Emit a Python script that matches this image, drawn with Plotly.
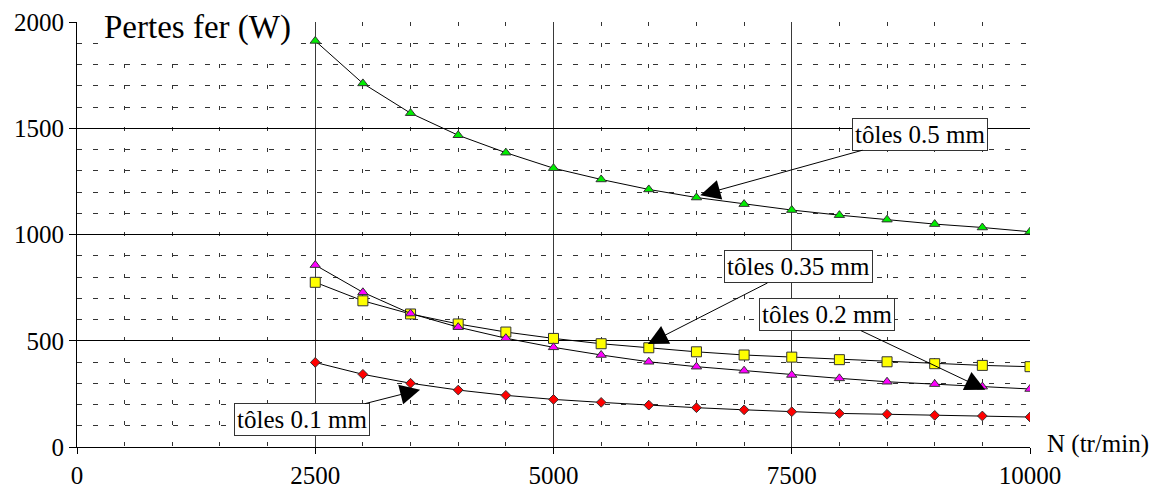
import plotly.graph_objects as go

speeds = [2500, 3000, 3500, 4000, 4500, 5000, 5500, 6000, 6500, 7000, 7500, 8000, 8500, 9000, 9500, 10000]
pertes_05 = [1911, 1711, 1571, 1467, 1385, 1312, 1259, 1212, 1174, 1143, 1115, 1091, 1070, 1049, 1033, 1013]
pertes_035 = [775, 688, 626, 579, 541, 511, 486, 467, 448, 433, 423, 411, 401, 392, 384, 378]
pertes_02 = [856, 728, 628, 564, 512, 469, 433, 401, 378, 359, 339, 323, 307, 296, 284, 273]
pertes_01 = [398, 342, 300, 268, 243, 224, 210, 197, 185, 175, 166, 158, 154, 149, 146, 141]

FONT = "'Liberation Serif', 'Times New Roman', Times, serif"

fig = go.Figure()

series = [
    (pertes_05, "triangle-up", "#00ee00", 9),
    (pertes_035, "square", "#ffff00", 10),
    (pertes_02, "triangle-up", "#ff00ff", 9),
    (pertes_01, "diamond", "#ff0000", 7.5),
]
for vals, sym, col, sz in series:
    fig.add_trace(go.Scatter(
        x=speeds, y=vals, mode="lines+markers",
        line=dict(color="black", width=1),
        marker=dict(symbol=sym, color=col, size=sz, line=dict(color="#333333", width=1)),
        showlegend=False,
    ))

def arrow(text, x, y, ax, ay):
    fig.add_annotation(
        x=x, y=y, xref="x", yref="y", text=text, showarrow=True,
        ax=ax, ay=ay, arrowhead=2, arrowsize=4, arrowwidth=1, arrowcolor="black",
        font=dict(family=FONT, size=25, color="black"),
        bgcolor="white", bordercolor="#333333", borderwidth=1, borderpad=2,
    )

arrow("tôles 0.5 mm", 6540, 1185, 220, -61)
arrow("tôles 0.35 mm", 5990, 485, 151, -77)
arrow("tôles 0.2 mm", 9530, 270, -158, -75)
arrow("tôles 0.1 mm", 3600, 270, -118, 30)

fig.add_annotation(
    text="Pertes fer (W)", xref="paper", yref="paper", x=0.1264, y=0.9875,
    xanchor="center", yanchor="middle", showarrow=False,
    font=dict(family=FONT, size=33, color="black"), bgcolor="white",
)
fig.add_annotation(
    text="N (tr/min)", xref="paper", yref="paper", x=1.0157, y=0.008,
    xanchor="left", yanchor="middle", showarrow=False,
    font=dict(family=FONT, size=25, color="black"),
)

fig.update_xaxes(
    range=[0, 10000], tickvals=[0, 2500, 5000, 7500, 10000], ticktext=["0", "2500", "5000", "7500", "10000"],
    showgrid=True, gridcolor="#3a3a3a", gridwidth=1,
    showline=True, linecolor="black", linewidth=1,
    ticks="outside", ticklen=6, tickcolor="black",
    zeroline=False, automargin=False,
    minor=dict(dtick=500, tick0=0, showgrid=True, gridcolor="#333333", griddash="4px,17px", gridwidth=1),
    tickfont=dict(family=FONT, size=25, color="black"),
)
fig.update_yaxes(
    range=[0, 2000], tickvals=[0, 500, 1000, 1500, 2000],
    showgrid=True, gridcolor="black", gridwidth=1,
    showline=True, linecolor="black", linewidth=1,
    ticks="outside", ticklen=7, tickcolor="black",
    zeroline=False, automargin=False,
    minor=dict(dtick=100, tick0=0, showgrid=True, gridcolor="#333333", griddash="5px,11px", gridwidth=1),
    tickfont=dict(family=FONT, size=25, color="black"),
)

fig.update_layout(
    width=1153, height=482,
    margin=dict(l=69, r=131, t=14, b=43),
    paper_bgcolor="white", plot_bgcolor="white",
)

fig.write_html("out.html")
